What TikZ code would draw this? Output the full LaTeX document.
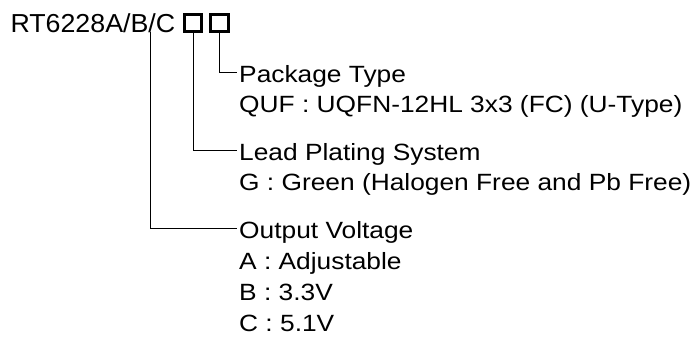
\documentclass[tikz,border=0pt]{standalone}
\usepackage{fontspec}
\setmainfont{Liberation Sans}
\newfontfamily\partfont[FakeStretch=1.03]{Liberation Sans}
\newfontfamily\itemfont[FakeStretch=1.12]{Liberation Sans}
\usepackage{tikz}

\begin{document}
\begin{tikzpicture}[x=1pt, y=-1pt,
		part node/.style={inner sep=0pt, anchor=base west, font=\partfont\fontsize{26}{30}\selectfont},
		code box/.style={draw, line width=3pt, minimum size=17.6pt, inner sep=0pt},
		head node/.style={inner xsep=2pt, inner ysep=0pt, text height=19pt, text depth=0pt,
			anchor=base west, font=\itemfont\fontsize{23.5}{28}\selectfont},
		tap line/.style={line width=0.8pt}]
	\useasboundingbox (0,0) rectangle (698,338);

	% part number and the two code fields
	\node[part node] (part) at (10.3,32) {RT6228A/B/C};
	\node[code box] (platebox) at (193,23) {};
	\node[code box] (pkgbox) at (219.7,23) {};
	\coordinate (volt) at (150.7,32);

	% field descriptions
	\node[head node] (pkg) at (237,82.2) {Package Type};
	\node[head node] (pkgA) at ([yshift=-30pt]pkg.base west) {QUF : UQFN-12HL 3x3 (FC) (U-Type)};
	\node[head node] (lead) at (237,160) {Lead Plating System};
	\node[head node] (leadA) at ([yshift=-30pt]lead.base west) {G : Green (Halogen Free and Pb Free)};
	\node[head node] (out) at (237,238.3) {Output Voltage};
	\node[head node] (outA) at ([yshift=-31pt]out.base west) {A : Adjustable};
	\node[head node] (outB) at ([yshift=-31pt]outA.base west) {B : 3.3V};
	\node[head node] (outC) at ([yshift=-31pt]outB.base west) {C : 5.1V};

	\draw[tap line] (pkgbox.south) |- (pkg.west);
	\draw[tap line] (platebox.south) |- (lead.west);
	\draw[tap line] (volt) |- (out.west);
\end{tikzpicture}
\end{document}
